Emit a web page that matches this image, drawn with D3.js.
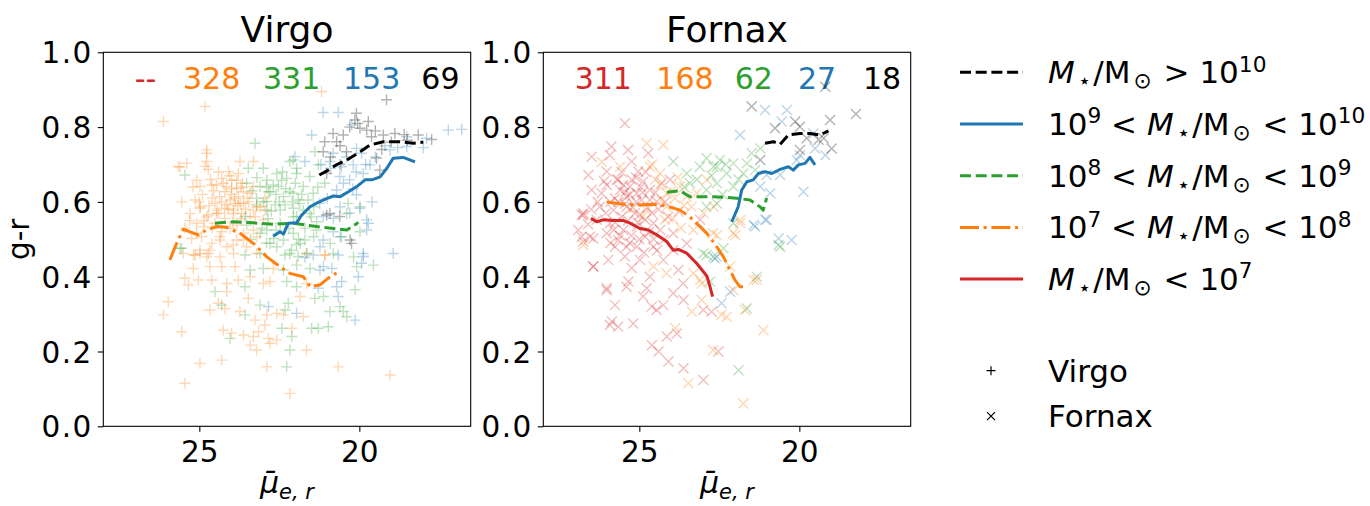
<!DOCTYPE html>
<html>
<head>
<meta charset="utf-8">
<script src="https://cdn.jsdelivr.net/npm/d3@7"></script>
<style>
  html, body { margin: 0; padding: 0; background: #fff; }
  svg { display: block; font-family: "DejaVu Sans", sans-serif; }
</style>
</head>
<body>
<div id="chart"></div>
<script>
// Mass bins, from the smallest to the largest
const binNames = ['M<1e7', '1e7-1e8', '1e8-1e9', '1e9-1e10', 'M>1e10'];
const binColors = ['#d62728', '#ff7f0e', '#2ca02c', '#1f77b4', '#000000'];

// Galaxy counts written at the top of each panel
const virgoCounts = ['--', '328', '331', '153', '69'];
const fornaxCounts = ['311', '168', '62', '27', '18'];

// Tick labels
const xTicks = [25, 20];
const yTicks = [0, 0.2, 0.4, 0.6, 0.8, 1.0];

// Virgo galaxies [mu_e,r , g-r]
const virgoRed = [];
const virgoOrange = [
  [26.12,0.815],[24.82,0.855],[21.18,0.895],[24.77,0.730],[24.77,0.708],[25.39,0.703],[25.65,0.694],[23.73,0.708],
  [24.72,0.687],[23.31,0.708],[24.09,0.681],[25.08,0.658],[24.98,0.641],[24.61,0.645],[23.83,0.658],[23.78,0.676],
  [25.13,0.605],[24.98,0.583],[24.72,0.565],[24.51,0.596],[24.36,0.614],[24.2,0.627],[23.99,0.636],[24.04,0.605],
  [23.78,0.614],[23.62,0.596],[23.41,0.623],[22.95,0.578],[23.31,0.578],[23.94,0.578],[24.2,0.583],[24.46,0.569],
  [23.0,0.552],[24.93,0.507],[25.24,0.502],[24.35,0.498],[23.94,0.485],[23.62,0.498],[24.98,0.462],[24.67,0.471],
  [24.04,0.529],[23.83,0.538],[23.31,0.525],[21.65,0.462],[21.08,0.458],
  [25.13,0.458],[24.72,0.462],[25.50,0.462],[23.21,0.462],[21.07,0.458],[25.19,0.422],[24.67,0.427],[24.30,0.427],
  [23.88,0.427],[22.69,0.422],[25.45,0.396],[25.03,0.391],[25.34,0.378],[24.61,0.391],[24.14,0.382],[23.78,0.391],
  [23.41,0.400],[24.14,0.360],[23.0,0.382],[22.79,0.387],[21.65,0.382],[25.97,0.333],[26.12,0.298],[24.67,0.311],
  [24.40,0.329],[24.20,0.315],[23.73,0.307],[23.47,0.342],[22.89,0.298],[23.26,0.284],[22.95,0.271],[23.15,0.253],
  [23.31,0.240],[22.58,0.302],[22.37,0.298],[21.75,0.293],[21.85,0.347],[22.11,0.262],[25.55,0.253],[24.25,0.257],
  [23.99,0.249],[23.62,0.244],[23.41,0.217],[23.21,0.204],[22.84,0.235],[22.58,0.231],[22.79,0.222],[21.65,0.204],
  [24.98,0.168],[24.30,0.177],[22.89,0.159],[20.66,0.159],[19.04,0.137],[25.45,0.115],[22.17,0.088],
  [24.77,0.739],[24.82,0.695],[25.6,0.694],
  [25.08,0.516],[24.87,0.534],[24.98,0.471],[24.61,0.489],[24.35,0.507],[25.18,0.458],[24.77,0.453],[24.35,0.453],
  [24.14,0.480],[23.83,0.498],[23.52,0.480],[23.93,0.462],[23.62,0.516],[23.2,0.507],[23.41,0.560],[23.93,0.569],
  [24.45,0.578],[24.97,0.587],[24.77,0.560],[25.29,0.569],[25.08,0.543],[23.2,0.587],[23.72,0.596],[24.14,0.592],
  [24.46,0.645],[24.30,0.663],[23.99,0.658],[24.15,0.641],[23.83,0.636],[23.62,0.627],[23.31,0.641],[23.88,0.596],
  [23.68,0.569],[24.2,0.556],[24.51,0.543],[22.95,0.610],[23.1,0.587],
  [24.9,0.62],[24.6,0.61],[24.3,0.60],[24.0,0.62],[23.7,0.64],[23.5,0.61],[24.4,0.57],[24.1,0.58],
  [23.8,0.59],[24.7,0.59],[25.0,0.60],[24.55,0.63],[24.25,0.65],[23.9,0.61],[23.55,0.58],[24.85,0.55],
  [24.6,0.53],[24.3,0.52],[23.95,0.545],[23.7,0.555],[25.3,0.55],[25.45,0.53],[25.55,0.60],[24.05,0.67],
  [24.4,0.68],[23.45,0.60],[23.25,0.56],[24.65,0.66],[23.65,0.65],[25.2,0.64]
];
const virgoGreen = [
  [23.26,0.757],[23.47,0.690],[23.0,0.690],[25.45,0.672],[22.58,0.676],[22.27,0.663],[21.96,0.690],[22.17,0.708],
  [23.21,0.610],[23.10,0.641],[22.89,0.658],[22.79,0.627],[22.53,0.641],[22.37,0.614],[22.17,0.627],[21.91,0.605],
  [22.63,0.592],[23.57,0.561],[25.55,0.476],[23.1,0.516],[22.79,0.489],[22.37,0.498],[22.17,0.462],[21.96,0.485],
  [21.39,0.734],[21.28,0.699],[22.07,0.712],[21.96,0.676],[21.55,0.668],[21.08,0.650],[21.75,0.641],[22.07,0.623],
  [21.44,0.623],[21.86,0.596],[20.35,0.596],[19.98,0.587],[21.55,0.569],[21.96,0.561],[19.98,0.520],[21.34,0.525],
  [21.70,0.498],[20.56,0.507],[22.12,0.471],
  [23.57,0.458],[22.32,0.458],[21.91,0.454],[19.56,0.431],[23.41,0.418],[23.0,0.422],[22.37,0.418],[21.96,0.431],
  [21.54,0.422],[20.08,0.427],[20.13,0.365],[23.57,0.373],[24.51,0.360],[22.27,0.387],[21.96,0.373],[21.12,0.347],
  [24.30,0.324],[23.57,0.298],[23.10,0.324],[22.32,0.311],[22.22,0.329],[21.39,0.342],[20.92,0.307],[20.60,0.320],
  [20.50,0.307],[20.39,0.293],[21.49,0.262],[21.28,0.262],[20.97,0.266],[22.42,0.262],[22.11,0.240],[24.04,0.235],
  [22.17,0.204],[22.27,0.159],
  [25.6,0.476],[22.89,0.525],[22.68,0.502],[22.58,0.480],[23.1,0.462],[22.47,0.543],[22.06,0.516],[21.85,0.489],
  [21.43,0.507],[21.64,0.462],[20.91,0.489],[20.81,0.462],[20.18,0.453],[21.33,0.547],[20.39,0.569],[21.43,0.587],
  [21.75,0.578],[22.47,0.578],[22.06,0.560],[22.89,0.578],[23.52,0.538],
  [23.52,0.650],[23.21,0.592],[22.89,0.601],[22.84,0.627],[22.69,0.645],[22.43,0.658],[22.32,0.592],[22.06,0.583],
  [22.9,0.64],[22.6,0.62],[22.3,0.635],[22.0,0.65],[21.8,0.62],[22.5,0.60],[22.75,0.575],[23.0,0.60],
  [23.35,0.63],[23.2,0.665],[22.4,0.68],[21.6,0.605],[21.3,0.64],[22.1,0.60],[21.5,0.56],[22.85,0.555],
  [23.05,0.53],[22.6,0.525],[22.2,0.53],[21.7,0.53],[23.4,0.50],[22.9,0.49],[21.9,0.50]
];
const virgoBlue = [
  [22.01,0.721],[21.13,0.839],[20.66,0.839],[20.24,0.806],[21.49,0.779],[18.52,0.774],[17.22,0.792],[16.8,0.794],
  [20.09,0.743],[19.04,0.739],[18.52,0.748],[20.82,0.730],[19.93,0.730],[21.70,0.708],[20.92,0.708],[20.56,0.694],
  [20.19,0.699],[19.67,0.699],[20.61,0.668],[20.3,0.659],[19.88,0.676],[20.71,0.632],[20.09,0.619],[21.24,0.596],
  [21.13,0.561],[19.72,0.543],[20.82,0.520],[21.13,0.498],[18.94,0.462],[19.88,0.462],[20.66,0.458],
  [21.70,0.452],[21.44,0.458],[19.87,0.454],[19.93,0.436],[21.23,0.418],[20.86,0.422],[21.12,0.427],[20.03,0.400],
  [20.55,0.387],[21.28,0.369],[20.71,0.373],[20.66,0.347],[22.84,0.320],[21.96,0.302],[20.13,0.284],
  [21.23,0.480],[20.6,0.507],[19.77,0.525],[19.77,0.552],[20.81,0.556],[20.6,0.587],[19.98,0.583],
  [20.4,0.72],[20.1,0.68],[19.8,0.70],[20.9,0.69],[21.2,0.70],[20.5,0.65],[20.2,0.635],[19.5,0.72],
  [19.2,0.75],[18.8,0.745],[18.0,0.745],[17.9,0.77],[21.0,0.61],[20.3,0.57],[19.6,0.60]
];
const virgoBlack = [
  [19.15,0.873],[20.09,0.837],[20.14,0.819],[19.72,0.815],[19.98,0.797],[20.82,0.783],[20.50,0.779],[19.77,0.792],
  [19.62,0.774],[19.25,0.779],[18.89,0.783],[18.16,0.779],[17.74,0.767],[21.08,0.761],[20.71,0.761],[21.13,0.734],
  [20.4,0.734],[19.46,0.717],[19.36,0.685],[21.02,0.676],[20.92,0.569],[20.61,0.561],[20.24,0.489],[20.29,0.498],
  [21.02,0.565],[20.3,0.80],[18.5,0.765],[19.0,0.76],[20.6,0.70],
  [20.05,0.81],[19.5,0.79],[18.6,0.78],[20.6,0.75],[20.9,0.72],[19.3,0.74]
];

// Fornax galaxies [mu_e,r , g-r]
const fornaxRed = [
  [25.87,0.748],[25.35,0.739],[26.49,0.721],[25.92,0.725],[25.24,0.708],[24.72,0.730],[26.59,0.672],[26.02,0.681],
  [25.03,0.681],[26.49,0.632],[26.02,0.645],[25.66,0.659],[25.29,0.641],[24.88,0.654],[25.08,0.623],[24.67,0.632],
  [24.04,0.659],[26.80,0.565],[26.23,0.587],[25.76,0.609],[25.40,0.587],[24.93,0.605],[24.46,0.601],[23.78,0.574],
  [23.1,0.552],[26.91,0.525],[26.54,0.507],[25.92,0.543],[26.02,0.516],[25.66,0.498],[25.40,0.480],[25.5,0.525],
  [25.08,0.534],[24.82,0.507],[25.08,0.480],[24.56,0.480],[24.25,0.498],[24.35,0.525],[23.94,0.516],[23.52,0.489],
  [23.94,0.471],[26.44,0.427],[25.97,0.445],[25.24,0.423],[24.98,0.445],[24.25,0.445],[24.67,0.400],[23.78,0.418],
  [23.63,0.382],[26.02,0.364],[25.4,0.373],[24.88,0.347],[23.94,0.356],
  [25.6,0.632],[25.4,0.614],[25.24,0.659],[25.81,0.578],[25.55,0.560],[25.14,0.570],[24.82,0.552],[24.67,0.605],
  [26.18,0.623],[26.33,0.552],[25.76,0.480],[25.45,0.454],[24.56,0.543],
  [26.75,0.565],[26.80,0.507],[26.44,0.502],[26.44,0.427],[26.02,0.369],[25.76,0.324],[25.92,0.271],[25.66,0.266],
  [25.34,0.387],[25.19,0.275],[24.77,0.369],[24.61,0.320],[24.46,0.311],[24.25,0.324],[24.61,0.217],[24.40,0.200],
  [24.14,0.240],[23.83,0.248],[24.09,0.173],[23.62,0.155],[23.0,0.124],[23.62,0.338],[23.0,0.311],[22.74,0.306],
  [22.53,0.200],[25.45,0.81],[26.75,0.494],[26.75,0.57],[25.86,0.28],
  [25.7,0.66],[25.5,0.645],[25.3,0.62],[25.1,0.60],[24.9,0.625],[25.45,0.595],[25.65,0.60],[25.2,0.585],
  [25.0,0.565],[24.75,0.585],[24.6,0.57],[25.35,0.55],[25.75,0.545],[26.05,0.57],[25.9,0.60],[24.95,0.64],
  [24.5,0.625],[24.4,0.58],[25.25,0.51],[25.0,0.50],[24.7,0.52],[25.6,0.51],[25.9,0.49],[25.3,0.49],
  [24.45,0.47],[25.55,0.68],[25.1,0.665],[24.8,0.68],[26.1,0.655],[26.3,0.60],[24.2,0.60],[24.1,0.56],
  [25.45,0.625],[25.05,0.545],[24.55,0.50],[25.8,0.525],[24.3,0.65],[26.6,0.54],[26.5,0.58],[24.85,0.465]
];
const fornaxOrange = [
  [24.77,0.757],[24.25,0.752],[26.17,0.707],[25.6,0.694],[24.67,0.694],[24.35,0.676],[24.35,0.645],[23.73,0.641],
  [23.21,0.623],[24.77,0.578],[24.15,0.587],[23.89,0.610],[23.37,0.587],[23.31,0.525],[22.69,0.516],[24.56,0.427],
  [24.15,0.409],[23.31,0.409],[23.05,0.382],[24.2,0.552],[24.15,0.623],[23.52,0.614],
  [26.75,0.485],[23.88,0.262],[23.47,0.115],[23.36,0.306],[23.05,0.338],[23.1,0.391],[22.58,0.511],[22.69,0.204],
  [22.43,0.298],[22.27,0.293],[22.06,0.364],[22.16,0.427],[22.0,0.511],[21.85,0.551],[21.75,0.061],[21.7,0.311],
  [21.33,0.391],[21.12,0.257],[22.89,0.659],[22.68,0.587],[22.99,0.570],[21.85,0.543],[22.06,0.516],[21.43,0.391],
  [24.5,0.66],[24.0,0.63],[23.8,0.665],[24.3,0.605],[23.6,0.59],[24.6,0.70],[23.95,0.555],[23.7,0.53],
  [24.9,0.56],[25.3,0.58]
];
const fornaxGreen = [
  [23.94,0.708],[23.52,0.676],[23.11,0.694],[22.9,0.717],[22.58,0.694],[23.42,0.650],[22.9,0.632],[22.9,0.587],
  [22.58,0.596],[22.9,0.458],[22.79,0.387],[23.0,0.462],[22.69,0.453],[22.37,0.476],[22.06,0.543],[21.90,0.150],
  [21.64,0.315],[21.33,0.400],[20.60,0.480],[21.49,0.730],[21.22,0.743],[21.64,0.703],[21.38,0.685],[21.75,0.676],
  [22.06,0.703],[22.48,0.712],[22.68,0.694],[22.27,0.676],[22.58,0.650],[22.06,0.641],[20.65,0.485],
  [23.2,0.66],[22.75,0.67],[22.3,0.70],[23.6,0.64],[22.4,0.62],[21.9,0.66]
];
const fornaxBlue = [
  [22.64,0.449],[22.58,0.453],[22.43,0.329],[22.16,0.360],[21.38,0.534],[21.07,0.552],[20.65,0.502],[20.24,0.498],
  [21.07,0.846],[20.39,0.846],[21.85,0.779],[20.55,0.815],[19.56,0.783],[19.51,0.743],[19.19,0.725],[20.08,0.712],
  [19.98,0.725],[20.6,0.672],[21.02,0.672],[21.22,0.641],[20.91,0.623],[19.87,0.627],[21.43,0.538],[21.02,0.552]
];
const fornaxBlack = [
  [19.19,0.908],[21.49,0.855],[18.23,0.835],[20.76,0.797],[20.13,0.815],[19.98,0.801],[19.04,0.819],[19.4,0.766],
  [19.24,0.770],[18.99,0.743],[19.98,0.739],[19.77,0.770],[21.22,0.712]
];

// Running medians per mass bin
const virgoLineRed = [];
const virgoLineOrange = [
  [25.92,0.445],[25.71,0.489],[25.50,0.527],[25.29,0.52],[25.03,0.512],[24.77,0.525],[24.46,0.534],[24.14,0.532],
  [23.73,0.516],[23.31,0.489],[22.89,0.453],[22.48,0.427],[22.17,0.409],[21.75,0.40],[21.54,0.373],[21.23,0.378],
  [20.97,0.396],[20.66,0.413]
];
const virgoLineGreen = [
  [24.51,0.543],[23.94,0.547],[23.31,0.544],[22.69,0.540],[22.06,0.543],[21.33,0.534],[20.81,0.529],[20.39,0.525],
  [20.03,0.545]
];
const virgoLineBlue = [
  [22.69,0.508],[22.48,0.52],[22.37,0.514],[22.22,0.543],[21.96,0.544],[21.8,0.565],[21.54,0.587],[21.30,0.598],
  [21.13,0.605],[20.81,0.616],[20.6,0.614],[20.34,0.627],[20.08,0.641],[19.82,0.659],[19.61,0.659],[19.35,0.667],
  [19.14,0.690],[18.94,0.717],[18.63,0.719],[18.26,0.707]
];
const virgoLineBlack = [
  [21.25,0.672],[20.97,0.685],[20.7,0.70],[20.39,0.712],[19.98,0.734],[19.67,0.752],[19.25,0.761],[18.73,0.761],
  [18.31,0.757],[18.0,0.76]
];
const fornaxLineRed = [
  [26.51,0.556],[26.33,0.547],[26.13,0.552],[25.81,0.55],[25.50,0.55],[25.29,0.543],[24.98,0.529],[24.72,0.525],
  [24.46,0.512],[24.14,0.494],[23.94,0.471],[23.78,0.473],[23.52,0.463],[23.21,0.436],[22.89,0.402],[22.79,0.373],
  [22.71,0.347]
];
const fornaxLineOrange = [
  [26.02,0.60],[25.5,0.594],[24.98,0.592],[24.56,0.594],[24.14,0.589],[23.73,0.578],[23.42,0.56],[23.10,0.534],
  [22.89,0.516],[22.58,0.48],[22.37,0.453],[22.17,0.418],[22.01,0.391],[21.85,0.373],[21.73,0.373]
];
const fornaxLineGreen = [
  [24.14,0.626],[23.73,0.63],[23.42,0.614],[22.69,0.614],[21.96,0.61],[21.54,0.605],[21.23,0.587],[21.13,0.578],
  [21.02,0.61]
];
const fornaxLineBlue = [
  [22.11,0.547],[21.91,0.587],[21.80,0.632],[21.64,0.654],[21.44,0.659],[21.28,0.676],[21.07,0.681],[20.86,0.676],
  [20.60,0.687],[20.34,0.694],[20.19,0.685],[20.03,0.699],[19.82,0.703],[19.67,0.719],[19.51,0.699]
];
const fornaxLineBlack = [
  [21.07,0.757],[20.81,0.761],[20.60,0.754],[20.34,0.779],[19.98,0.783],[19.67,0.783],[19.35,0.779],[19.09,0.79]
];

// Legend labels, written as pieces: [text, 'i' italic | 'sub' | 'sup' | '' plain]
const legendLabels = [
  [['M','i'],['\u22c6','sub'],['/M',''],['\u2299','sub'],[' > 10',''],['10','sup']],
  [['10',''],['9','sup'],[' < ',''],['M','i'],['\u22c6','sub'],['/M',''],['\u2299','sub'],[' < 10',''],['10','sup']],
  [['10',''],['8','sup'],[' < ',''],['M','i'],['\u22c6','sub'],['/M',''],['\u2299','sub'],[' < 10',''],['9','sup']],
  [['10',''],['7','sup'],[' < ',''],['M','i'],['\u22c6','sub'],['/M',''],['\u2299','sub'],[' < 10',''],['8','sup']],
  [['M','i'],['\u22c6','sub'],['/M',''],['\u2299','sub'],[' < 10',''],['7','sup']]
];
const legendBins = [4, 3, 2, 1, 0];
const clusterNames = ['Virgo', 'Fornax'];

document.addEventListener('DOMContentLoaded', () => {

  const width = 1370, height = 506;
  const axW = 367.4, axH = 374, axTop = 52.3;
  const lw = 3;
  const dashes = ['none', '19,4.7,3,4.7', '11,4.7', 'none', '11,4.7'];

  const svg = d3.select('#chart').append('svg')
    .attr('width', width)
    .attr('height', height);

  const x = d3.scaleLinear().domain([28, 16.52]).range([0, axW]);
  const y = d3.scaleLinear().domain([0, 1]).range([axH, 0]);

  // Marker shapes
  const plusPath = h => `M${-h},0L${h},0M0,${-h}L0,${h}`;
  const crossPath = h => `M${-h},${-h}L${h},${h}M${-h},${h}L${h},${-h}`;

  const panels = [
    { name: 'Virgo', left: 103.3, marker: plusPath(5.5),
      points: [virgoRed, virgoOrange, virgoGreen, virgoBlue, virgoBlack],
      lines: [virgoLineRed, virgoLineOrange, virgoLineGreen, virgoLineBlue, virgoLineBlack],
      counts: virgoCounts, countX: [33.4, 81.7, 161.7, 241.7, 320] },
    { name: 'Fornax', left: 543.3, marker: crossPath(5),
      points: [fornaxRed, fornaxOrange, fornaxGreen, fornaxBlue, fornaxBlack],
      lines: [fornaxLineRed, fornaxLineOrange, fornaxLineGreen, fornaxLineBlue, fornaxLineBlack],
      counts: fornaxCounts, countX: [33.4, 115, 193.4, 256.7, 321.7] }
  ];

  const line = d3.line().x(d => x(d[0])).y(d => y(d[1]));

  panels.forEach((p, pi) => {
    const g = svg.append('g').attr('transform', `translate(${p.left},${axTop})`);

    // clip region of the axes
    const clipId = 'clip' + pi;
    svg.append('clipPath').attr('id', clipId)
      .append('rect').attr('x', p.left).attr('y', axTop).attr('width', axW).attr('height', axH);
    const plot = svg.append('g').attr('clip-path', `url(#${clipId})`)
      .append('g').attr('transform', `translate(${p.left},${axTop})`);

    // scatter of every mass bin
    p.points.forEach((pts, bi) => {
      plot.append('g').selectAll('path')
        .data(pts)
        .enter().append('path')
        .attr('transform', d => `translate(${x(d[0])},${y(d[1])})`)
        .attr('d', p.marker)
        .attr('fill', 'none')
        .attr('stroke', binColors[bi])
        .attr('stroke-opacity', 0.3)
        .attr('stroke-width', 1.4);
    });

    // median lines
    p.lines.forEach((ln, bi) => {
      if (!ln.length) return;
      plot.append('path')
        .datum(ln)
        .attr('d', line)
        .attr('fill', 'none')
        .attr('stroke', binColors[bi])
        .attr('stroke-width', lw)
        .attr('stroke-dasharray', dashes[bi])
        .attr('stroke-linejoin', 'round');
    });

    // axes
    const xAxis = d3.axisBottom(x).tickValues(xTicks).tickSize(5.5).tickPadding(4.5).tickFormat(d3.format('d'));
    const yAxis = d3.axisLeft(y).tickValues(yTicks).tickSize(5.5).tickPadding(5).tickFormat(d3.format('.1f'));
    const gx = g.append('g').attr('transform', `translate(0,${axH})`).call(xAxis);
    const gy = g.append('g').call(yAxis);
    [gx, gy].forEach(a => {
      a.select('.domain').remove();
      a.selectAll('.tick line').attr('stroke', '#000').attr('stroke-width', 1.1);
      a.selectAll('.tick text').attr('fill', '#000').style('font-size', '29.5px')
        .style('font-family', '"DejaVu Sans", sans-serif');
    });
    gx.selectAll('.tick text').attr('dy', null).attr('y', 36);
    gy.selectAll('.tick text').attr('dy', '0.36em').style('letter-spacing', '1.5px');

    // frame
    g.append('rect')
      .attr('width', axW).attr('height', axH)
      .attr('fill', 'none').attr('stroke', '#000').attr('stroke-width', 1.1);

    // title
    g.append('text')
      .attr('x', axW / 2).attr('y', 42 - axTop)
      .attr('text-anchor', 'middle')
      .style('font-size', '36px')
      .text(p.name);

    // counts per bin
    p.counts.forEach((c, bi) => {
      g.append('text')
        .attr('x', p.countX[bi] - 2).attr('y', 89 - axTop)
        .attr('fill', binColors[bi])
        .style('font-size', '30px')
        .text(c);
    });

    // x label: mean surface brightness
    const xl = g.append('text')
      .attr('x', axW / 2).attr('y', 493 - axTop)
      .attr('text-anchor', 'middle')
      .style('font-size', '30px');
    xl.append('tspan').style('font-style', 'italic').text('\u03bc\u0304');
    xl.append('tspan').style('font-style', 'italic').style('font-size', '21px')
      .attr('dy', 6).text('e, r');
  });

  // y label
  svg.append('text')
    .attr('transform', `translate(29,${axTop + axH / 2}) rotate(-90)`)
    .attr('text-anchor', 'middle')
    .style('font-size', '29.5px')
    .text('g-r');

  // legend of the mass bins
  const fs = 31;
  const legend = svg.append('g');
  legendLabels.forEach((pieces, i) => {
    const bi = legendBins[i];
    const ly = 72.3 + i * 51.7;
    legend.append('line')
      .attr('x1', 960).attr('x2', 1023)
      .attr('y1', ly).attr('y2', ly)
      .attr('stroke', binColors[bi])
      .attr('stroke-width', lw)
      .attr('stroke-dasharray', dashes[bi]);

    const t = legend.append('text')
      .attr('x', 1048).attr('y', ly + 10.8)
      .style('font-size', fs + 'px')
      .style('white-space', 'pre');
    let shift = 0;
    let gap = 0;
    pieces.forEach(([txt, kind]) => {
      let target = 0;
      const s = t.append('tspan').text(txt);
      if (kind === 'i') s.style('font-style', 'italic');
      if (kind === 'sub') { target = 5; s.style('font-size', (fs * 0.7) + 'px'); }
      if (kind === 'sup') { target = -11.5; s.style('font-size', (fs * 0.7) + 'px'); }
      if (target !== shift) { s.attr('dy', target - shift); shift = target; }
      // a little room around the subscripts, as in math text
      const dx = gap + (kind === 'sub' ? 3 : 0);
      if (dx) s.attr('dx', dx);
      gap = kind === 'sub' ? 2 : 0;
    });
  });

  // legend of the clusters
  const markers = [plusPath(4.5), crossPath(4)];
  clusterNames.forEach((name, i) => {
    const ly = 370.7 + i * 45.5;
    legend.append('path')
      .attr('transform', `translate(991,${ly})`)
      .attr('d', markers[i])
      .attr('fill', 'none').attr('stroke', '#000').attr('stroke-width', 1.2);
    legend.append('text')
      .attr('x', 1048).attr('y', ly + 10.8)
      .style('font-size', fs + 'px')
      .text(name);
  });
});
</script>
</body>
</html>
